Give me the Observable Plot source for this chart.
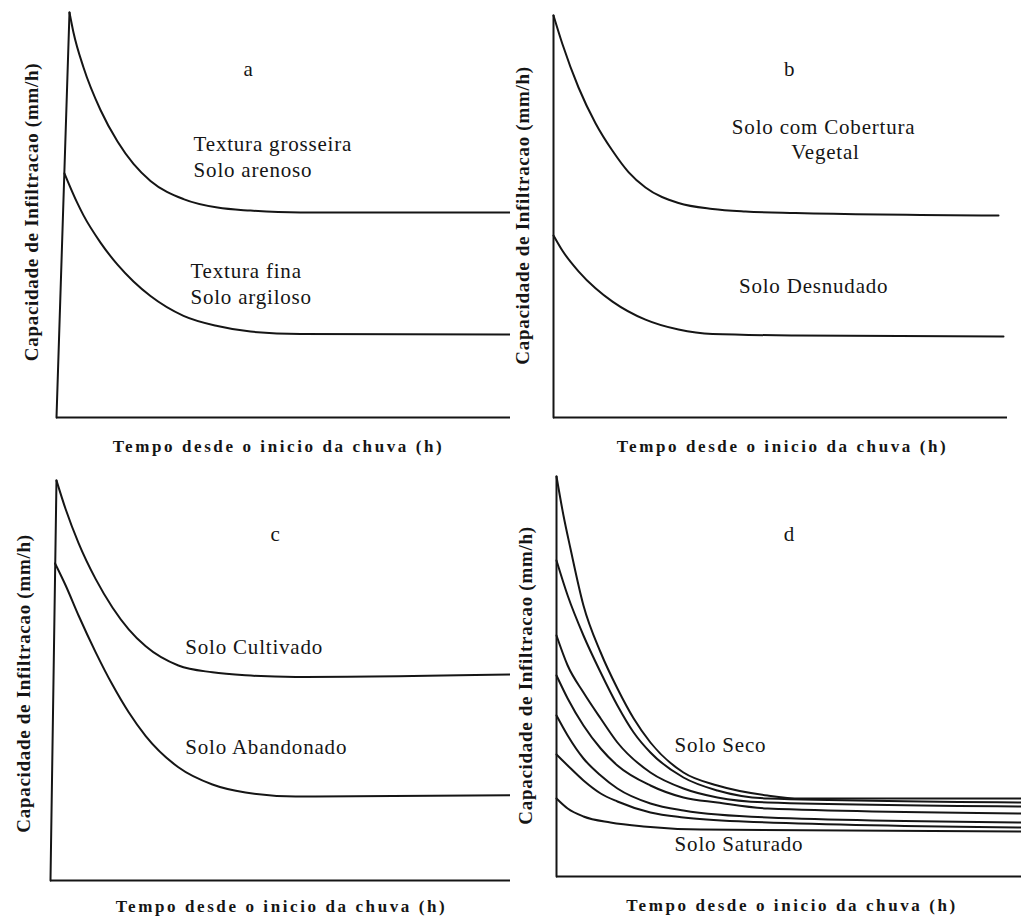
<!DOCTYPE html>
<html>
<head>
<meta charset="utf-8">
<script src="https://cdn.jsdelivr.net/npm/d3@7"></script>
<script src="https://cdn.jsdelivr.net/npm/@observablehq/plot@0.6"></script>
<style>
  html, body { margin: 0; padding: 0; background: #fff; }
  #page { position: relative; width: 1021px; height: 916px; overflow: hidden; background: #fff; }
  .panel { position: absolute; }
  .panel svg { display: block; }
</style>
</head>
<body>
<div id="page"></div>
<script>
// ---- Data: time since start of rain (0–100, arbitrary units) vs infiltration capacity (0–100, arbitrary units)
const xTitle = "Tempo desde o inicio da chuva (h)";
const yTitle = "Capacidade de Infiltracao (mm/h)";

// Panel a
const riseA = [[0, 0], [2.86, 100]];
const aGrosseira = [[2.86,100],[3.74,95.06],[5.95,86.42],[9.69,75.93],[13.44,68.15],[16.96,62.62],[20.7,58.42],[27.97,53.93],[35.46,51.83],[42.73,51.09],[53.74,50.62],[100,50.62]];
const aFina = [[1.76,60.25],[4.63,52.86],[5.95,49.9],[9.69,43.19],[13.44,37.73],[16.96,33.58],[20.7,30.0],[27.97,25.11],[35.46,22.59],[42.73,21.21],[53.74,20.59],[100,20.49]];

// Panel b
const riseB = [[0, 0], [0, 100]];
const bCobertura = [[0,100],[1.98,92.84],[5.51,82.09],[9.25,73.21],[13.0,66.34],[16.52,61.04],[20.26,57.21],[27.53,53.36],[35.02,51.87],[42.29,51.24],[53.3,50.87],[98.02,50.25]];
const bDesnudado = [[0,45.27],[1.98,41.47],[5.51,36.37],[9.25,32.14],[13.0,28.83],[20.26,24.33],[27.53,21.87],[35.02,20.77],[53.3,20.4],[99.12,20.15]];

// Panel c
const riseC = [[0, 0], [1.3, 100]];
const cCultivado = [[1.3,100],[3.3,92.8],[6.1,84.35],[9.8,75.4],[13.5,68.2],[17.0,62.8],[20.7,58.55],[27.8,53.75],[35.2,52.05],[42.4,51.3],[53.3,50.9],[100,51.5]];
const cAbandonado = [[1.0,79.25],[3.3,73.75],[6.1,66.25],[9.8,57.1],[13.5,48.85],[17.0,42.05],[20.7,36.1],[27.8,28.3],[35.2,24.0],[42.4,22.0],[53.3,21.0],[100,21.3]];

// Panel d (from dry soil down to saturated soil)
const riseD = [[0, 0], [0, 100]];
const d1 = [[0,100],[1.5,90.25],[3.0,82.0],[5.8,67.75],[9.5,56.0],[13.1,47.0],[16.6,39.5],[20.2,33.5],[27.3,26.0],[34.6,22.75],[45.4,20.25],[52.5,19.5],[100,19.5]];
const d2 = [[0,79.0],[2.4,70.25],[5.8,60.25],[9.5,51.0],[13.1,42.75],[16.6,36.0],[20.2,31.0],[27.3,24.75],[34.6,21.5],[45.4,19.5],[100,18.5]];
const d3c = [[0,60.25],[2.4,52.75],[5.8,46.0],[9.5,39.5],[13.1,33.5],[20.2,26.0],[27.3,22.0],[34.6,19.75],[45.4,18.5],[100,17.5]];
const d4 = [[0,50.25],[2.4,44.5],[5.8,37.75],[9.5,32.0],[13.1,27.75],[20.2,22.75],[27.3,19.75],[34.6,18.5],[45.4,17.0],[100,15.75]];
const d5 = [[0,40.25],[2.4,35.25],[5.8,29.5],[9.5,25.25],[13.1,22.0],[20.2,18.25],[27.3,16.5],[45.4,14.75],[100,13.5]];
const d6 = [[0,30.5],[2.4,27.75],[5.8,24.0],[9.5,20.75],[13.1,18.75],[20.2,16.0],[27.3,14.75],[40.2,13.75],[100,12.25]];
const d7 = [[0,19.5],[2.4,17.0],[5.8,15.0],[11.6,13.5],[18.7,12.5],[31.0,11.75],[100,11.25]];

// ---- Layout / styling config
const serif = "'Liberation Serif', 'Times New Roman', serif";
const panels = [
  { left: 0, top: 0, width: 511, height: 460, m: [12, 1, 43, 56],
    rise: riseA, curves: [aGrosseira, aFina],
    labels: [
      { t: "a", x: 42.3, y: 86.0, a: "middle" },
      { t: "Textura grosseira", x: 30.2, y: 67.5, a: "start" },
      { t: "Solo arenoso", x: 30.2, y: 61.1, a: "start" },
      { t: "Textura fina", x: 29.5, y: 36.1, a: "start" },
      { t: "Solo argiloso", x: 29.5, y: 29.7, a: "start" }
    ],
    xt: [-5, 29], yt: [-25, -3] },
  { left: 510, top: 0, width: 511, height: 460, m: [15, 14, 43, 43],
    rise: riseB, curves: [bCobertura, bDesnudado],
    labels: [
      { t: "b", x: 52.0, y: 86.7, a: "middle" },
      { t: "Solo com Cobertura", x: 59.5, y: 72.2, a: "middle" },
      { t: "Vegetal", x: 59.9, y: 66.0, a: "middle" },
      { t: "Solo Desnudado", x: 57.3, y: 32.7, a: "middle" }
    ],
    xt: [2, 29], yt: [-31, -1] },
  { left: 0, top: 460, width: 511, height: 456, m: [20, 1, 36, 50],
    rise: riseC, curves: [cCultivado, cAbandonado],
    labels: [
      { t: "c", x: 48.9, y: 86.6, a: "middle" },
      { t: "Solo Cultivado", x: 29.3, y: 58.35, a: "start" },
      { t: "Solo Abandonado", x: 29.3, y: 33.35, a: "start" }
    ],
    xt: [1, 26], yt: [-27, 3] },
  { left: 510, top: 460, width: 511, height: 456, m: [16, 0, 40, 46],
    rise: riseD, curves: [d1, d2, d3c, d4, d5, d6, d7],
    labels: [
      { t: "d", x: 50.1, y: 85.6, a: "middle" },
      { t: "Solo Seco", x: 25.4, y: 32.85, a: "start" },
      { t: "Solo Saturado", x: 25.4, y: 8.1, a: "start" }
    ],
    xt: [3, 29], yt: [-31, -1] }
];

const page = document.getElementById("page");
const ink = "#151515";

for (const p of panels) {
  const marks = [
    Plot.ruleY([0], { stroke: ink, strokeWidth: 2 }),
    Plot.line(p.rise, { x: d => d[0], y: d => d[1], stroke: ink, strokeWidth: 2 }),
    ...p.curves.map(c => Plot.line(c, { x: d => d[0], y: d => d[1], curve: "monotone-x", stroke: ink, strokeWidth: 2 })),
    Plot.text(p.labels.filter(l => l.a === "start"), { x: "x", y: "y", text: "t", textAnchor: "start", fontSize: 21, fill: ink }),
    Plot.text(p.labels.filter(l => l.a === "middle"), { x: "x", y: "y", text: "t", textAnchor: "middle", fontSize: 21, fill: ink }),
    Plot.text([xTitle], { frameAnchor: "bottom", textAnchor: "middle", lineAnchor: "middle", dx: p.xt[0], dy: p.xt[1], fontSize: 17, fontWeight: "bold", fill: ink }),
    Plot.text([yTitle], { frameAnchor: "left", textAnchor: "middle", lineAnchor: "middle", rotate: -90, dx: p.yt[0], dy: p.yt[1], fontSize: 19, fontWeight: "bold", fill: ink })
  ];
  const svg = Plot.plot({
    width: p.width, height: p.height,
    marginTop: p.m[0], marginRight: p.m[1], marginBottom: p.m[2], marginLeft: p.m[3],
    x: { domain: [0, 100], axis: null },
    y: { domain: [0, 100], axis: null },
    style: { background: "white", fontFamily: serif, overflow: "visible" },
    marks
  });
  const sel = d3.select(svg).selectAll("text");
  sel.filter(function () { return this.textContent === xTitle; }).style("letter-spacing", "2.6px");
  sel.filter(function () { return this.textContent === yTitle; }).style("letter-spacing", "0.7px");
  sel.filter(function () { return this.textContent !== xTitle && this.textContent !== yTitle; }).style("letter-spacing", "0.8px");
  const div = document.createElement("div");
  div.className = "panel";
  div.style.left = p.left + "px";
  div.style.top = p.top + "px";
  div.appendChild(svg);
  page.appendChild(div);
}
</script>
</body>
</html>
